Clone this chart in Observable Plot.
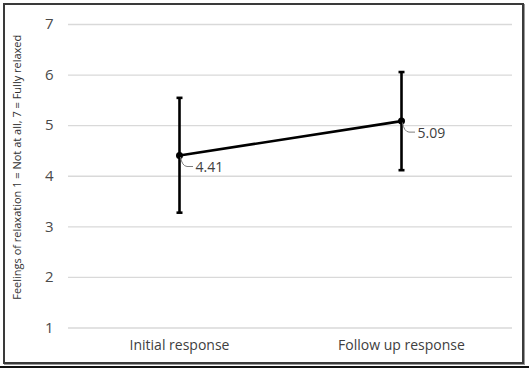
<!DOCTYPE html>
<html>
<head>
<meta charset="utf-8">
<script src="https://cdn.jsdelivr.net/npm/d3@7"></script>
<script src="https://cdn.jsdelivr.net/npm/@observablehq/plot@0.6"></script>
<style>
  html, body { margin: 0; padding: 0; background: #fff; }
  #wrap { position: relative; width: 529px; height: 369px; overflow: hidden; }
  #frame { position: absolute; left: 3px; top: 3px; width: 521px; height: 361px; box-sizing: border-box; border: 2px solid #3a3a3a; box-shadow: 1px 1px 0 #9a9a9a; pointer-events: none; }
  #bottomline { position: absolute; left: 0; top: 366px; width: 529px; height: 2px; background: #111; }
  #chart { position: absolute; left: 0; top: 0; }
</style>
</head>
<body>
<div id="wrap">
  <div id="chart"></div>
  <div id="frame"></div>
  <div id="bottomline"></div>
</div>
<script>
const categories = ["Initial response", "Follow up response"];
const means = [4.41, 5.09];
const lower = [3.28, 4.12];
const upper = [5.55, 6.06];
const yTicks = [1, 2, 3, 4, 5, 6, 7];
const yLabel = "Feelings of relaxation 1 = Not at all, 7 = Fully relaxed";

const data = categories.map((c, i) => ({cat: c, mean: means[i], lo: lower[i], hi: upper[i], label: means[i].toFixed(2)}));

const capSymbol = {
  draw(context, size) {
    const r = Math.sqrt(size / Math.PI);
    context.moveTo(-r, 0);
    context.lineTo(r, 0);
  }
};

const font = "'Open Sans', 'Noto Sans', sans-serif";

const leader = Plot.dot(data, {
  x: "cat", y: "mean",
  render(index, scales, values, dims, context) {
    const g = d3.create("svg:g");
    for (const i of index) {
      const x = values.x[i], y = values.y[i];
      g.append("path")
        .attr("d", `M${x + 1.5},${y + 2} Q${x + 3},${y + 11} ${x + 8},${y + 11.5} L${x + 14},${y + 11.5}`)
        .attr("fill", "none")
        .attr("stroke", "#7f7f7f")
        .attr("stroke-width", 1);
    }
    return g.node();
  }
});

const chart = Plot.plot({
  width: 529,
  height: 369,
  marginLeft: 68,
  marginRight: 17,
  marginTop: 24,
  marginBottom: 41.5,
  style: {fontFamily: font, background: "transparent", color: "#595959"},
  x: {type: "point", domain: categories, padding: 0.5, label: null},
  y: {domain: [1, 7], ticks: yTicks, label: null},
  marks: [
    Plot.gridY(yTicks, {stroke: "#d9d9d9", strokeOpacity: 1, strokeWidth: 1.3}),
    Plot.axisY(yTicks, {tickSize: 0, tickPadding: 15, fontSize: 15, fill: "#4a4a4a", label: null, tickFormat: d => String(d)}),
    Plot.axisX({tickSize: 0, tickPadding: 12, fontSize: 14, fill: "#404040", label: null}),
    Plot.text([yLabel], {frameAnchor: "left", textAnchor: "middle", rotate: -90, dx: -51, dy: -9, fontSize: 11, fill: "#333"}),
    Plot.ruleX(data, {x: "cat", y1: "lo", y2: "hi", stroke: "#000", strokeWidth: 2.6}),
    Plot.dot(data, {x: "cat", y: "lo", symbol: capSymbol, r: 3, stroke: "#000", strokeWidth: 2.6, fill: "none"}),
    Plot.dot(data, {x: "cat", y: "hi", symbol: capSymbol, r: 3, stroke: "#000", strokeWidth: 2.6, fill: "none"}),
    Plot.line(data, {x: "cat", y: "mean", stroke: "#000", strokeWidth: 2.6}),
    Plot.dot(data, {x: "cat", y: "mean", r: 3.5, fill: "#000"}),
    leader,
    Plot.text(data, {x: "cat", y: "mean", text: "label", dx: 16, dy: 12, textAnchor: "start", fontSize: 14, fill: "#404040"})
  ]
});
document.getElementById("chart").appendChild(chart);
</script>
</body>
</html>
